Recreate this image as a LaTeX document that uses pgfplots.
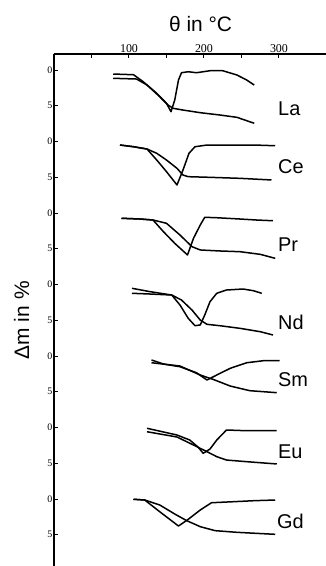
\documentclass[border=0pt]{standalone}
\usepackage{fontspec}
\setmainfont{Liberation Serif}
\newfontfamily\labfont{Liberation Sans}
\usepackage{pgfplots}
\usepackage{pgfplotstable}
\pgfplotsset{compat=1.18}

% local mass change (%) of each element; curve A and curve B
\pgfplotstableread{
T m
79 0.56
106 0.66
119 1.64
137 3.26
150 4.66
156 5.83
161 4.2
166 1.4
170 0.38
179 0.24
190 0.38
208 0.1
225 0.1
244 0.7
257 1.4
267 2.1
}\LaA
\pgfplotstableread{
T m
79 1.16
110 1.26
124 2.1
141 3.73
152 4.9
159 5.36
172 5.6
195 5.97
221 6.29
244 6.62
267 7.45
}\LaB
\pgfplotstableread{
T m
88 0.49
106 0.73
124 1.05
137 2.59
150 4.22
164 6.08
172 3.99
180 1.65
188 0.73
204 0.49
239 0.49
266 0.49
295 0.59
}\CeA
\pgfplotstableread{
T m
88 0.49
106 0.73
124 1.05
137 1.65
150 2.59
164 3.75
172 4.69
179 4.92
208 5.01
248 5.15
290 5.38
}\CeB
\pgfplotstableread{
T m
90 0.74
115 0.84
132 0.98
146 2.62
161 4.24
178 5.87
186 3.54
195 1.68
201 0.6
217 0.66
248 0.84
270 0.98
292 1.08
}\PrA
\pgfplotstableread{
T m
90 0.74
115 0.84
132 0.98
150 1.44
168 3.08
184 4.71
195 5.17
221 5.31
248 5.41
275 5.78
295 6.34
}\PrB
\pgfplotstableread{
T m
104 0.53
128 1.0
157 1.47
168 2.87
179 4.73
188 5.76
195 5.66
201 4.27
208 2.41
217 1.23
230 0.77
252 0.63
266 0.87
277 1.23
}\NdA
\pgfplotstableread{
T m
104 1.23
128 1.33
157 1.47
170 2.17
184 3.57
195 4.97
204 5.57
221 5.76
248 6.13
275 6.6
292 7.06
}\NdB
\pgfplotstableread{
T m
130 0.56
146 1.12
168 1.5
190 2.34
204 3.36
217 2.66
235 1.72
257 0.94
279 0.66
301 0.66
}\SmA
\pgfplotstableread{
T m
130 0.94
168 1.4
195 2.66
212 3.26
235 4.2
261 4.85
297 5.13
}\SmB
\pgfplotstableread{
T m
124 0.11
164 1.05
181 1.75
192 2.73
199 3.61
208 3.01
217 1.75
230 0.35
257 0.45
297 0.45
}\EuA
\pgfplotstableread{
T m
124 0.59
164 1.33
186 2.45
204 3.38
217 4.08
230 4.55
257 4.78
297 5.1
}\EuB
\pgfplotstableread{
T m
106 0.04
121 0.14
141 1.78
166 3.78
179 2.84
195 1.54
210 0.52
239 0.38
266 0.24
295 0.14
}\GdA
\pgfplotstableread{
T m
106 0.04
121 0.14
141 0.84
161 2.1
177 3.03
195 3.87
215 4.43
244 4.66
295 4.94
}\GdB

\begin{document}
\begin{tikzpicture}
\useasboundingbox (0,0) rectangle (326bp,566bp);
\begin{axis}[
  at={(54bp,0bp)}, anchor=south west,
  scale only axis, width=272bp, height=512bp,
  xmin=0, xmax=362.7, ymin=-69.37, ymax=2.24,
  axis x line=top, axis y line=left,
  axis line style={-, line width=1.2bp, black},
  clip=false,
  xtick={50,100,150,200,250,300},
  xticklabels={,100,,200,,300},
  ytick={-65,-60,-55,-50,-45,-40,-35,-30,-25,-20,-15,-10,-5,0},
  yticklabels={5,0,5,0,5,0,5,0,5,0,5,0,5,0},
  tick align=inside,
  major tick length=4bp,
  tick style={line width=1bp, black},
  xticklabel style={font=\fontsize{12}{12}\selectfont, inner sep=1bp},
  yticklabel style={font=\fontsize{10}{10}\selectfont, inner sep=1.5bp},
  cycle list={{black, solid}},
  every axis plot post/.append style={black, solid, line width=1.5bp, line join=round, mark=none},
]
\addplot table[x=T, y expr={-(\thisrow{m})}] {\LaA};
\addplot table[x=T, y expr={-(\thisrow{m})}] {\LaB};
\addplot table[x=T, y expr={-(\thisrow{m}+10)}] {\CeA};
\addplot table[x=T, y expr={-(\thisrow{m}+10)}] {\CeB};
\addplot table[x=T, y expr={-(\thisrow{m}+20)}] {\PrA};
\addplot table[x=T, y expr={-(\thisrow{m}+20)}] {\PrB};
\addplot table[x=T, y expr={-(\thisrow{m}+30)}] {\NdA};
\addplot table[x=T, y expr={-(\thisrow{m}+30)}] {\NdB};
\addplot table[x=T, y expr={-(\thisrow{m}+40)}] {\SmA};
\addplot table[x=T, y expr={-(\thisrow{m}+40)}] {\SmB};
\addplot table[x=T, y expr={-(\thisrow{m}+50)}] {\EuA};
\addplot table[x=T, y expr={-(\thisrow{m}+50)}] {\EuB};
\addplot table[x=T, y expr={-(\thisrow{m}+60)}] {\GdA};
\addplot table[x=T, y expr={-(\thisrow{m}+60)}] {\GdB};

\begin{scope}[every node/.style={font=\labfont\fontsize{20}{20}\selectfont, anchor=west, inner sep=0pt}]
\node at (axis cs:298.7,-5.45) {La};
\node at (axis cs:298.7,-13.57) {Ce};
\node at (axis cs:298.7,-24.48) {Pr};
\node at (axis cs:298.7,-35.24) {Nd};
\node at (axis cs:298.7,-43.36) {Sm};
\node at (axis cs:298.7,-53.43) {Eu};
\node at (axis cs:297.3,-63.08) {Gd};
\end{scope}
\node[font=\labfont\fontsize{21}{21}\selectfont, inner sep=0pt] at (axis cs:195.5,6.5) {θ in °C};
\node[font=\labfont\fontsize{21}{21}\selectfont, inner sep=0pt, rotate=90] at (axis cs:-43.3,-35) {Δm in \%};
\end{axis}
\end{tikzpicture}
\end{document}
